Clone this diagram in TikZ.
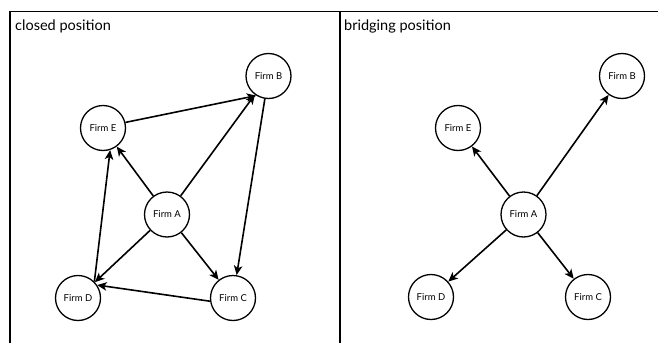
\documentclass[tikz,border=0pt]{standalone}
\usepackage{fontspec}
\setmainfont{Lato}
\usetikzlibrary{arrows.meta}
\begin{document}
\begin{tikzpicture}[x=1pt,y=-1pt,
  firm/.style={circle,draw,line width=1.3pt,minimum size=45pt,inner sep=0pt,font=\fontsize{9.5}{11}\selectfont},
  link/.style={line width=1.6pt,-{Stealth[length=9.5pt,width=8.5pt,inset=2.5pt]}},
  frame/.style={line width=1.1pt},
  ttl/.style={anchor=base west,inner sep=0pt,font=\fontsize{14.5}{17}\selectfont}]
\useasboundingbox (0,0) rectangle (659,343);
% frame
\coordinate (tl) at (10,343);
\coordinate (tc) at (340,343);
\draw[frame] (tl) -- (10,11.5) -- (658,11.5);
\draw[frame] (340,11.5) -- (tc);
\node[ttl] (t1) at (15,30) {closed position};
\node[ttl] (t2) at (344,30) {bridging position};
% left panel
\node[firm] (A1) at (167,214.5) {Firm A};
\node[firm] (B1) at (268.5,76) {Firm B};
\node[firm] (C1) at (233,298) {Firm C};
\node[firm] (D1) at (78,298) {Firm D};
\node[firm] (E1) at (103,128) {Firm E};
\draw[link] (A1) -- (E1);
\draw[link] (A1) -- (B1);
\draw[link] (A1) -- (D1);
\draw[link] (A1) -- (C1);
\draw[link] (E1.14) -- (B1.238);
\draw[link] (B1) -- (C1);
\draw[link] (C1.188) -- (D1.34);
\draw[link] (D1.45) -- (E1.288);
% right panel
\node[firm] (A2) at (523.5,214.5) {Firm A};
\node[firm] (B2) at (622,76) {Firm B};
\node[firm] (C2) at (588,297) {Firm C};
\node[firm] (D2) at (431,297) {Firm D};
\node[firm] (E2) at (458,128) {Firm E};
\draw[link] (A2) -- (E2);
\draw[link] (A2) -- (B2);
\draw[link] (A2) -- (D2);
\draw[link] (A2) -- (C2);
\end{tikzpicture}
\end{document}
